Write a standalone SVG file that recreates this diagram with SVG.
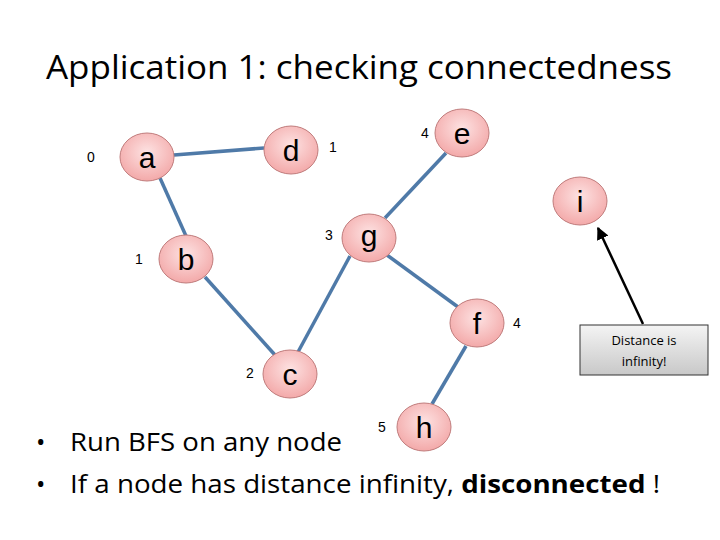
<svg xmlns="http://www.w3.org/2000/svg" width="720" height="540" viewBox="0 0 720 540">
<defs>
<radialGradient id="pk" cx="50%" cy="40%" r="60%"><stop offset="0" stop-color="#fde2e2"/><stop offset="1" stop-color="#f3a9a9"/></radialGradient>
<linearGradient id="gb" x1="0" y1="0" x2="0" y2="1"><stop offset="0" stop-color="#f4f4f4"/><stop offset="1" stop-color="#c8c8c8"/></linearGradient>
<marker id="ar" viewBox="0 0 10 10" refX="9" refY="5" markerWidth="5" markerHeight="5" orient="auto"><path d="M0,0L10,5L0,10z" fill="#000"/></marker>
</defs>
<style>
.n ellipse{fill:url(#pk);stroke:#c07c7c;stroke-width:1}
.n text{font-family:"Liberation Sans","Open Sans",sans-serif;font-size:30px;text-anchor:middle}
.d{font-family:"Liberation Sans",sans-serif;font-size:14px;text-anchor:middle}
.e{stroke:#4f7aa8;stroke-width:3.5;fill:none}
.t{font-family:"Open Sans","Liberation Sans",sans-serif}
</style>
<rect width="720" height="540" fill="#fff"/>
<text class="t" x="46" y="79" font-size="32" textLength="626" lengthAdjust="spacingAndGlyphs">Application 1: checking connectedness</text>
<g id="edges">
<line class="e" x1="174" y1="155" x2="264" y2="148"/>
<line class="e" x1="160" y1="178" x2="186" y2="236"/>
<line class="e" x1="205" y1="277" x2="275" y2="355"/>
<line class="e" x1="298" y1="352" x2="350" y2="256"/>
<line class="e" x1="385" y1="218" x2="446" y2="153"/>
<line class="e" x1="387" y1="255" x2="458" y2="307"/>
<line class="e" x1="466" y1="346" x2="432" y2="404"/>
</g>
<g id="a" class="n"><ellipse cx="147" cy="157" rx="27" ry="24"/><text x="147" y="168">a</text></g>
<g id="d" class="n"><ellipse cx="291" cy="150" rx="27" ry="24"/><text x="291" y="161">d</text></g>
<g id="e" class="n"><ellipse cx="462" cy="133" rx="27" ry="24"/><text x="462" y="144">e</text></g>
<g id="i" class="n"><ellipse cx="580" cy="201" rx="27" ry="24"/><text x="580" y="212">i</text></g>
<g id="g" class="n"><ellipse cx="369" cy="238" rx="27" ry="24"/><text x="369" y="246">g</text></g>
<g id="b" class="n"><ellipse cx="186" cy="259" rx="27" ry="24"/><text x="186" y="270">b</text></g>
<g id="f" class="n"><ellipse cx="477" cy="323" rx="27" ry="24"/><text x="477" y="334">f</text></g>
<g id="c" class="n"><ellipse cx="290" cy="374" rx="27" ry="24"/><text x="290" y="385">c</text></g>
<g id="h" class="n"><ellipse cx="424" cy="427" rx="27" ry="24"/><text x="424" y="438">h</text></g>
<g id="labels">
<text class="d" x="91" y="162">0</text>
<text class="d" x="333" y="152">1</text>
<text class="d" x="425" y="138">4</text>
<text class="d" x="329" y="240">3</text>
<text class="d" x="139" y="264">1</text>
<text class="d" x="517" y="328">4</text>
<text class="d" x="250" y="378">2</text>
<text class="d" x="382" y="432">5</text>
</g>
<g id="callout">
<line x1="643" y1="324" x2="598" y2="228" stroke="#000" stroke-width="2.5" marker-end="url(#ar)"/>
<rect x="580" y="325" width="128" height="50" fill="url(#gb)" stroke="#333" stroke-width="1"/>
<text class="t" x="644" y="345" font-size="13" text-anchor="middle">Distance is</text>
<text class="t" x="644" y="366" font-size="13" text-anchor="middle">infinity!</text>
</g>
<g class="t" font-size="25">
<text x="36" y="451">•</text>
<text x="70" y="451" textLength="272" lengthAdjust="spacingAndGlyphs">Run BFS on any node</text>
<text x="36" y="493">•</text>
<text x="70" y="493" textLength="590" lengthAdjust="spacingAndGlyphs">If a node has distance infinity, <tspan font-weight="bold">disconnected</tspan> !</text>
</g>
</svg>
